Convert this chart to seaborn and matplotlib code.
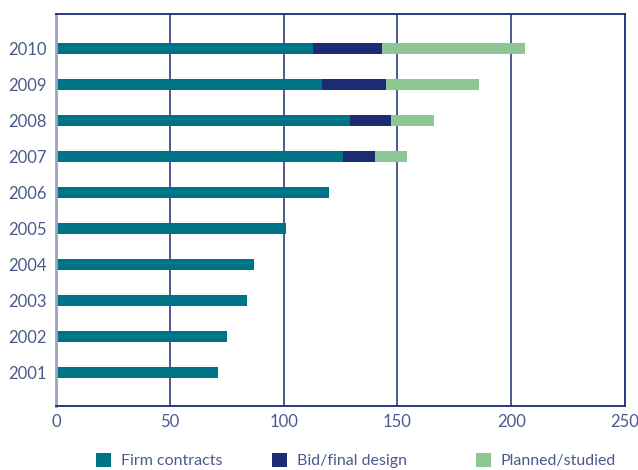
import pandas as pd
import numpy as np
import matplotlib.pyplot as plt
import seaborn as sns

years = ['2010', '2009', '2008', '2007', '2006', '2005', '2004', '2003', '2002', '2001']
firm = [113, 117, 129, 126, 120, 101, 87, 84, 75, 71]
bid = [30, 28, 18, 14, 0, 0, 0, 0, 0, 0]
planned = [63, 41, 19, 14, 0, 0, 0, 0, 0, 0]

df = pd.DataFrame({'year': years, 'firm': firm, 'bid': bid, 'planned': planned})
df['firm_bid'] = df['firm'] + df['bid']
df['total'] = df['firm_bid'] + df['planned']

c_firm = '#007487'
c_bid = '#1b2b74'
c_plan = '#8fc794'
c_text = '#4b5a8c'

sns.set_style('white')
plt.rcParams['font.family'] = ['Lato', 'DejaVu Sans']

fig = plt.figure(figsize=(6.38, 4.70), dpi=100)
ax = fig.add_axes([0.0878, 0.136, 0.892, 0.834])

# stacked: draw totals first, then overlay smaller parts
sns.barplot(data=df, y='year', x='total', order=years, color=c_plan, width=0.3,
            orient='h', ax=ax, label='Planned/studied', saturation=1, linewidth=0)
sns.barplot(data=df, y='year', x='firm_bid', order=years, color=c_bid, width=0.3,
            orient='h', ax=ax, label='Bid/final design', saturation=1, linewidth=0)
sns.barplot(data=df, y='year', x='firm', order=years, color=c_firm, width=0.3,
            orient='h', ax=ax, label='Firm contracts', saturation=1, linewidth=0)

ax.set_xlim(0, 250)
ax.set_ylim(9.92, -0.95)
ax.set_xticks([0, 50, 100, 150, 200, 250])
ax.set_xlabel('')
ax.set_ylabel('')
for x in [50, 100, 150, 200]:
    ax.axvline(x, color=c_bid, lw=1.1, zorder=0)
ax.tick_params(axis='both', length=0, labelsize=12, labelcolor=c_text)
ax.tick_params(axis='x', pad=6)
ax.tick_params(axis='y', pad=7)
for side in ['top', 'right', 'bottom']:
    ax.spines[side].set_color(c_bid)
    ax.spines[side].set_linewidth(1.3)
ax.spines['left'].set_color('#9aa3c6')
ax.spines['left'].set_linewidth(2)

if ax.get_legend():
    ax.get_legend().remove()
handles, labels = ax.get_legend_handles_labels()
hmap = dict(zip(labels, handles))
# one legend per entry so each sits where the reference puts it
for lab, xpos in [('Firm contracts', 96), ('Bid/final design', 272), ('Planned/studied', 476)]:
    fig.legend([hmap[lab]], [lab], loc='lower left',
               bbox_to_anchor=(xpos / 638, 0.004), frameon=False,
               borderaxespad=0, borderpad=0,
               fontsize=11.5, handlelength=0.95, handleheight=0.95,
               handletextpad=0.6, labelcolor=c_text)

fig.savefig('out.png', dpi=100)
